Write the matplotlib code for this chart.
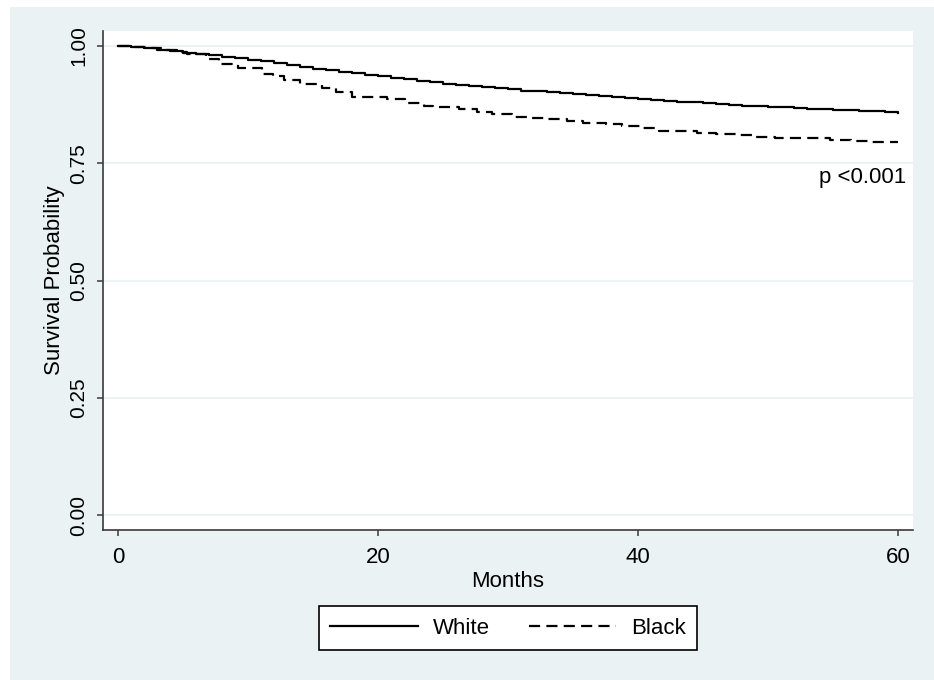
import matplotlib
matplotlib.use("Agg")
import matplotlib.pyplot as plt
from matplotlib.patches import Rectangle

plt.rcParams['font.family'] = ['Liberation Sans', 'DejaVu Sans']
plt.rcParams['lines.scale_dashes'] = False

# ---- data ----
white_t = list(range(61))
white_s = [1.000, 0.998, 0.995, 0.992, 0.989, 0.986, 0.983, 0.980, 0.977, 0.974,
           0.970, 0.967, 0.963, 0.960, 0.956, 0.952, 0.949, 0.945, 0.942, 0.938,
           0.935, 0.932, 0.929, 0.926, 0.923, 0.920, 0.917, 0.915, 0.912, 0.910,
           0.908, 0.905, 0.903, 0.901, 0.899, 0.897, 0.895, 0.893, 0.891, 0.889,
           0.887, 0.885, 0.883, 0.881, 0.880, 0.878, 0.876, 0.875, 0.873, 0.872,
           0.870, 0.869, 0.868, 0.866, 0.865, 0.864, 0.863, 0.862, 0.861, 0.859,
           0.858]

black_t = [0, 1.0, 2.5, 3.5, 4.5, 5.3, 6.8, 7.8, 9.2, 11.1, 11.9, 12.8, 14.0,
           15.7, 16.8, 18.0, 20.7, 22.1, 23.5, 24.2, 26.2, 27.6, 28.8, 30.3,
           31.5, 33.0, 34.5, 35.8, 37.5, 38.8, 40.2, 41.6, 44.5, 46.0, 47.5,
           49.0, 50.5, 52.0, 54.8, 56.4, 57.8, 59.4, 60.0]
black_s = [1.000, 0.998, 0.995, 0.992, 0.988, 0.984, 0.972, 0.962, 0.953, 0.941,
           0.937, 0.928, 0.919, 0.910, 0.901, 0.892, 0.886, 0.879, 0.873, 0.869,
           0.866, 0.860, 0.854, 0.849, 0.847, 0.844, 0.840, 0.836, 0.833, 0.829,
           0.825, 0.819, 0.815, 0.812, 0.810, 0.807, 0.804, 0.803, 0.800, 0.798,
           0.796, 0.795, 0.795]

x_ticks = [0, 20, 40, 60]
y_ticks = [0.00, 0.25, 0.50, 0.75, 1.00]
y_tick_labels = ["0.00", "0.25", "0.50", "0.75", "1.00"]
series_labels = ["White", "Black"]
p_text = "p <0.001"

BG = '#EAF2F3'
AXC = '#3a3a3a'

W, H = 934, 680
fig = plt.figure(figsize=(W / 100, H / 100), dpi=100, facecolor='white')
fig.patches.append(Rectangle((10 / W, 0), 1 - 10 / W, 1 - 7 / H,
                             transform=fig.transFigure, facecolor=BG,
                             edgecolor='none', zorder=-10))

ax = fig.add_axes([103 / W, 1 - 530 / H, (913 - 103) / W, (530 - 31) / H])
ax.set_zorder(1)
ax.set_facecolor('white')

ax.plot(white_t, white_s, drawstyle='steps-post', color='black', lw=1.6,
        label=series_labels[0], zorder=3)
ax.plot(black_t, black_s, drawstyle='steps-post', color='black', lw=1.6,
        linestyle=(0, (8, 4.5)), label=series_labels[1], zorder=3)

ax.set_xlim(-15 / 13, (913 - 118) / 13)
ax.set_ylim(-15 / 469, 1 + 15 / 469)

ax.set_xticks(x_ticks)
ax.set_yticks(y_ticks)
ax.set_yticklabels(y_tick_labels)
ax.yaxis.grid(True, color=BG, lw=1.3, zorder=0)
ax.set_axisbelow(True)

for s in ['top', 'right']:
    ax.spines[s].set_visible(False)
for s in ['left', 'bottom']:
    ax.spines[s].set_color(AXC)
    ax.spines[s].set_linewidth(1.2)

ax.tick_params(axis='x', length=4.5, width=1.1, color=AXC, labelsize=16, pad=8)
ax.tick_params(axis='y', length=4.5, width=1.1, color=AXC, labelsize=15, pad=6,
               labelrotation=90)
for lab in ax.get_yticklabels():
    lab.set_va('center')

ax.set_xlabel("Months", fontsize=16, labelpad=2)
ax.set_ylabel("Survival Probability", fontsize=16, labelpad=3)

ax.text(60.6, 0.719, p_text, fontsize=16, ha='right', va='center')

leg = fig.legend(loc='center', bbox_to_anchor=(508 / W, 1 - 628 / H),
                 ncol=2, fontsize=16, frameon=True, fancybox=False,
                 edgecolor='black', facecolor='white', framealpha=1,
                 handlelength=3.95, handletextpad=0.65, columnspacing=1.75,
                 borderpad=0.5)
leg.get_frame().set_linewidth(1.2)

fig.savefig("out.png", dpi=100, facecolor=fig.get_facecolor())
